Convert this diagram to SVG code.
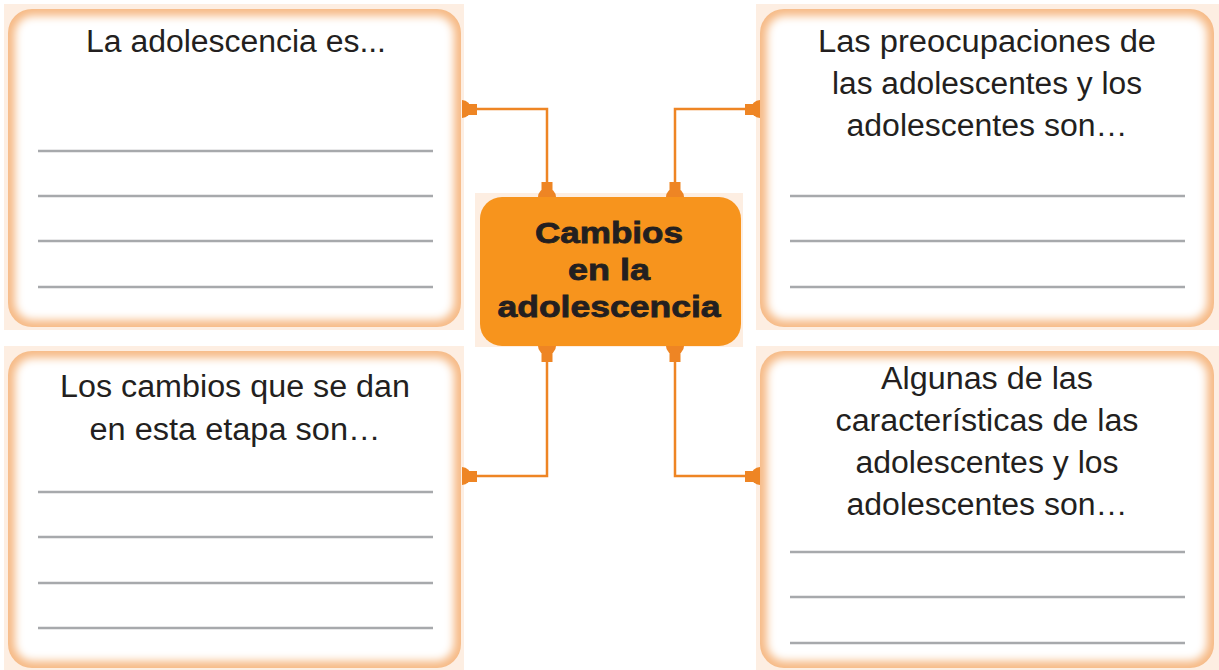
<svg xmlns="http://www.w3.org/2000/svg" width="1219" height="670" viewBox="0 0 1219 670">
<style>
.bg{fill:#FDEEE2}
.edge{fill:#F6BA86}
.inner{fill:#FFFFFF;filter:url(#soft)}
.rule{stroke:#A7A9AC;stroke-width:2.5}
.t{font-family:"Liberation Sans",Arial,sans-serif;font-size:31px;fill:#231F20;text-anchor:middle}
.b{font-family:"Liberation Sans",Arial,sans-serif;font-size:30px;font-weight:bold;fill:#231F20;stroke:#231F20;stroke-width:0.8;text-anchor:middle}
.con{fill:none;stroke:#EE8524;stroke-width:2.5}
.cap{fill:#EE8524}
</style>
<defs>
<filter id="soft" x="-5%" y="-5%" width="110%" height="110%">
<feGaussianBlur stdDeviation="4"/>
</filter>
<clipPath id="cTL"><rect x="8" y="9" width="453" height="318" rx="24"/></clipPath>
<clipPath id="cTR"><rect x="760" y="9" width="454" height="318" rx="24"/></clipPath>
<clipPath id="cBL"><rect x="8" y="351" width="453" height="317" rx="24"/></clipPath>
<clipPath id="cBR"><rect x="760" y="351" width="454" height="317" rx="24"/></clipPath>
</defs>
<rect width="1219" height="670" fill="#FFFFFF"/>

<g id="box-tl">
<rect class="bg" x="4" y="4" width="460" height="326"/>
<g clip-path="url(#cTL)">
<rect class="edge" x="8" y="9" width="453" height="318"/>
<rect class="inner" x="15" y="16" width="439" height="304" rx="18"/>
</g>
<text class="t" x="236" y="52" textLength="300" lengthAdjust="spacingAndGlyphs">La adolescencia es...</text>
<line class="rule" x1="38" y1="151" x2="433" y2="151"/>
<line class="rule" x1="38" y1="196" x2="433" y2="196"/>
<line class="rule" x1="38" y1="241" x2="433" y2="241"/>
<line class="rule" x1="38" y1="287" x2="433" y2="287"/>
</g>

<g id="box-tr">
<rect class="bg" x="756" y="4" width="463" height="326"/>
<g clip-path="url(#cTR)">
<rect class="edge" x="760" y="9" width="454" height="318"/>
<rect class="inner" x="767" y="16" width="440" height="304" rx="18"/>
</g>
<text class="t" x="987" y="52" textLength="338" lengthAdjust="spacingAndGlyphs">Las preocupaciones de</text>
<text class="t" x="987" y="94" textLength="310" lengthAdjust="spacingAndGlyphs">las adolescentes y los</text>
<text class="t" x="987" y="136" textLength="281" lengthAdjust="spacingAndGlyphs">adolescentes son…</text>
<line class="rule" x1="790" y1="196" x2="1185" y2="196"/>
<line class="rule" x1="790" y1="241" x2="1185" y2="241"/>
<line class="rule" x1="790" y1="287" x2="1185" y2="287"/>
</g>

<g id="box-bl">
<rect class="bg" x="4" y="346" width="460" height="324"/>
<g clip-path="url(#cBL)">
<rect class="edge" x="8" y="351" width="453" height="317"/>
<rect class="inner" x="15" y="358" width="439" height="303" rx="18"/>
</g>
<text class="t" x="235" y="397" textLength="350" lengthAdjust="spacingAndGlyphs">Los cambios que se dan</text>
<text class="t" x="235" y="440" textLength="291" lengthAdjust="spacingAndGlyphs">en esta etapa son…</text>
<line class="rule" x1="38" y1="492" x2="433" y2="492"/>
<line class="rule" x1="38" y1="537" x2="433" y2="537"/>
<line class="rule" x1="38" y1="583" x2="433" y2="583"/>
<line class="rule" x1="38" y1="628" x2="433" y2="628"/>
</g>

<g id="box-br">
<rect class="bg" x="756" y="346" width="463" height="324"/>
<g clip-path="url(#cBR)">
<rect class="edge" x="760" y="351" width="454" height="317"/>
<rect class="inner" x="767" y="358" width="440" height="303" rx="18"/>
</g>
<text class="t" x="987" y="389" textLength="212" lengthAdjust="spacingAndGlyphs">Algunas de las</text>
<text class="t" x="987" y="431" textLength="303" lengthAdjust="spacingAndGlyphs">características de las</text>
<text class="t" x="987" y="473" textLength="263" lengthAdjust="spacingAndGlyphs">adolescentes y los</text>
<text class="t" x="987" y="515" textLength="281" lengthAdjust="spacingAndGlyphs">adolescentes son…</text>
<line class="rule" x1="790" y1="552" x2="1185" y2="552"/>
<line class="rule" x1="790" y1="597" x2="1185" y2="597"/>
<line class="rule" x1="790" y1="643" x2="1185" y2="643"/>
</g>

<g id="center">
<rect class="bg" x="475" y="193" width="268" height="154"/>
<rect x="480" y="197" width="261" height="149" rx="22" fill="#F7941D"/>
<text class="b" x="609" y="243" textLength="148" lengthAdjust="spacingAndGlyphs">Cambios</text>
<text class="b" x="609" y="280" textLength="82" lengthAdjust="spacingAndGlyphs">en la</text>
<text class="b" x="609" y="317" textLength="223" lengthAdjust="spacingAndGlyphs">adolescencia</text>
</g>

<g id="connectors">
<polyline class="con" points="470,109 547,109 547,190"/>
<polyline class="con" points="752,109 675,109 675,190"/>
<polyline class="con" points="470,476 547,476 547,354"/>
<polyline class="con" points="752,476 675,476 675,354"/>
<path class="cap" d="M462,100 A9,9 0 0 1 462,118 Z"/><rect class="cap" x="462" y="104" width="15" height="11"/>
<path class="cap" d="M760,100 A9,9 0 0 0 760,118 Z"/><rect class="cap" x="745" y="104" width="15" height="11"/>
<path class="cap" d="M462,467 A9,9 0 0 1 462,485 Z"/><rect class="cap" x="462" y="471" width="15" height="11"/>
<path class="cap" d="M760,467 A9,9 0 0 0 760,485 Z"/><rect class="cap" x="745" y="471" width="15" height="11"/>
<path class="cap" d="M538,197 A9,9 0 0 1 556,197 Z"/><rect class="cap" x="541.5" y="182" width="11" height="15"/>
<path class="cap" d="M666,197 A9,9 0 0 1 684,197 Z"/><rect class="cap" x="669.5" y="182" width="11" height="15"/>
<path class="cap" d="M538,346 A9,9 0 0 0 556,346 Z"/><rect class="cap" x="541.5" y="346" width="11" height="16"/>
<path class="cap" d="M666,346 A9,9 0 0 0 684,346 Z"/><rect class="cap" x="669.5" y="346" width="11" height="16"/>
</g>
</svg>
